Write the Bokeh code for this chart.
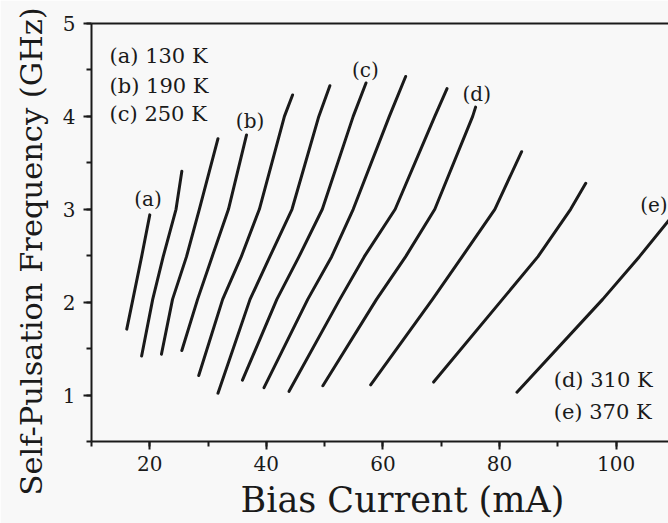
from bokeh.plotting import figure
from bokeh.models import (ColumnDataSource, LinearAxis, Range1d, SingleIntervalTicker,
                          FixedTicker, Title)
from bokeh.core.properties import value
from bokeh.embed import file_html
from bokeh.resources import INLINE

FONT = "DejaVu Serif"
BG = "#f8f8f8"
INK = "#1a1a1a"

# ---- data: bias current (mA) vs self-pulsation frequency (GHz), 13 curves ----
curve_current = [
    [16.05, 17.1, 18.6, 20.0],
    [18.6, 20.5, 22.3, 24.5, 25.5],
    [22.0, 23.9, 26.3, 28.5, 31.7],
    [25.5, 28.2, 30.7, 33.5, 36.6],
    [28.4, 32.5, 35.7, 38.8, 43.1, 44.5],
    [31.7, 37.2, 40.6, 44.4, 49.0, 50.9],
    [35.9, 41.8, 45.6, 49.6, 54.9, 57.1],
    [39.6, 47.1, 51.2, 54.9, 61.1, 63.9],
    [43.9, 52.6, 56.8, 62.1, 68.9, 71.0],
    [49.7, 58.9, 63.9, 68.9, 75.4, 75.9],
    [57.9, 68.5, 73.6, 79.2, 83.8],
    [68.7, 80.5, 86.6, 92.2, 94.8],
    [83.0, 97.7, 104.0, 108.9, 112.0],
]
curve_freq = [
    [1.71, 2.03, 2.49, 2.94],
    [1.42, 2.03, 2.49, 3.0, 3.41],
    [1.44, 2.03, 2.49, 3.0, 3.76],
    [1.48, 2.03, 2.49, 3.0, 3.80],
    [1.21, 2.03, 2.49, 3.0, 4.0, 4.23],
    [1.02, 2.03, 2.49, 3.0, 4.0, 4.33],
    [1.16, 2.03, 2.49, 3.0, 4.0, 4.36],
    [1.08, 2.03, 2.49, 3.0, 4.0, 4.43],
    [1.04, 2.03, 2.49, 3.0, 4.0, 4.30],
    [1.10, 2.03, 2.49, 3.0, 4.0, 4.10],
    [1.11, 2.03, 2.49, 3.0, 3.62],
    [1.14, 2.03, 2.49, 3.0, 3.28],
    [1.03, 2.03, 2.49, 2.87, 3.10],
]

# curve tags
tag_text = ["(a)", "(b)", "(c)", "(d)", "(e)"]
tag_x = [19.7, 37.2, 57.0, 76.1, 106.5]
tag_y = [3.11, 3.95, 4.50, 4.24, 3.05]

# temperature key
key_text = ["(a) 130 K", "(b) 190 K", "(c) 250 K", "(d) 310 K", "(e) 370 K"]
key_x = [13.1, 13.1, 13.1, 89.3, 89.3]
key_y = [4.65, 4.33, 4.03, 1.16, 0.82]

x_title = "Bias Current (mA)"
y_title = "Self-Pulsation Frequency (GHz)"

p = figure(width=668, height=523, output_backend="svg", toolbar_location=None,
           x_range=Range1d(10, 109), y_range=Range1d(0.5, 5.0),
           min_border_left=91, min_border_right=0, min_border_top=23,
           min_border_bottom=81)
p.background_fill_color = BG
p.border_fill_color = BG
p.outline_line_color = None
p.xgrid.visible = False
p.ygrid.visible = False

src = ColumnDataSource(dict(xs=curve_current, ys=curve_freq))
p.multi_line(xs="xs", ys="ys", source=src, line_color=INK, line_width=3,
             line_cap="round", line_join="round")

p.text(x=tag_x, y=tag_y, text=tag_text, text_font=value(FONT),
       text_font_size="20px", text_align="center", text_baseline="middle",
       text_color=INK)
p.text(x=key_x, y=key_y, text=key_text, text_font=value(FONT),
       text_font_size="21px", text_align="left", text_baseline="middle",
       text_color=INK)

for ax, interval in ((p.xaxis[0], 20), (p.yaxis[0], 1)):
    ax.ticker = SingleIntervalTicker(interval=interval, num_minor_ticks=2)
    ax.axis_line_color = INK
    ax.axis_line_width = 2
    ax.major_tick_line_color = INK
    ax.major_tick_line_width = 2
    ax.major_tick_out = 8
    ax.major_tick_in = 0
    ax.minor_tick_line_color = INK
    ax.minor_tick_line_width = 2
    ax.minor_tick_out = 5
    ax.minor_tick_in = 0
    ax.major_label_text_font = FONT
    ax.major_label_text_font_size = "20px"
    ax.major_label_text_color = INK
p.xaxis.major_label_standoff = 6
p.yaxis.major_label_standoff = 8

# axis titles as side titles (the original frame runs past the right edge,
# so the titles sit off-centre relative to the visible frame)
p.add_layout(Title(text=x_title, text_font=FONT, text_font_size="35px",
                   text_font_style="normal", text_color=INK, align="left",
                   offset=149, standoff=8), "below")
p.add_layout(Title(text=y_title, text_font=FONT, text_font_size="30.5px",
                   text_font_style="normal", text_color=INK, align="left",
                   offset=-54, standoff=21), "left")

top = LinearAxis(axis_line_color=INK, axis_line_width=2,
                 ticker=FixedTicker(ticks=[]),
                 major_tick_line_color=None, minor_tick_line_color=None,
                 major_label_standoff=0)
p.add_layout(top, "above")

open("out.html", "w").write(file_html(p, INLINE))
